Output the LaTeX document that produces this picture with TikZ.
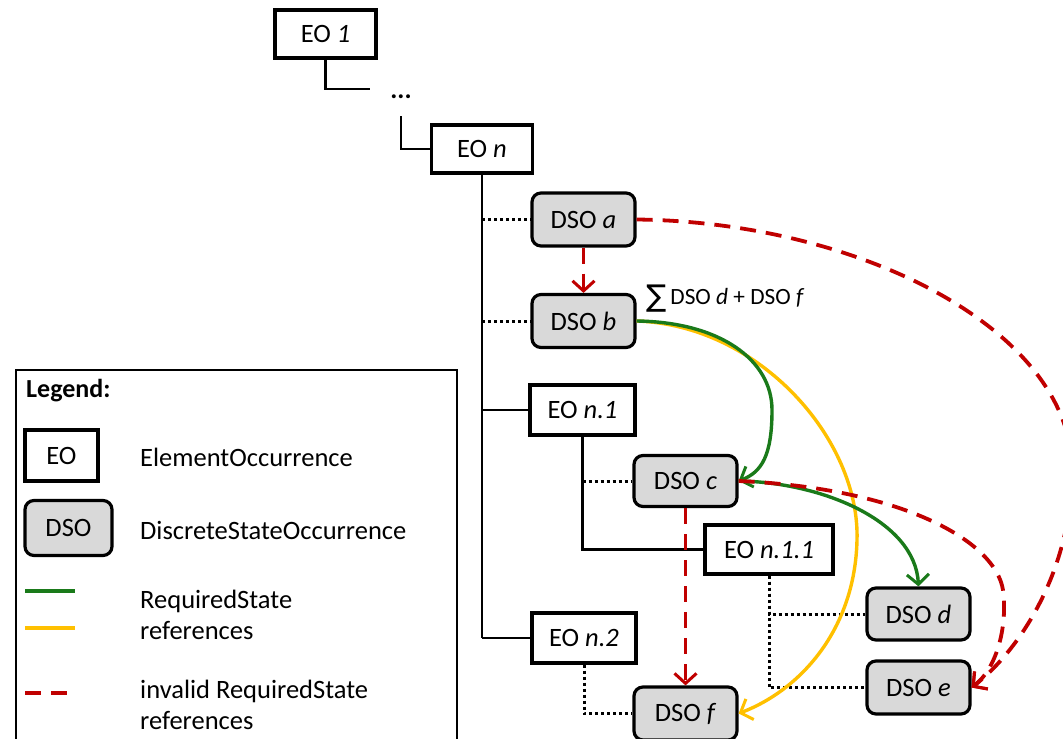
\documentclass[tikz,border=0pt]{standalone}
\usepackage{fontspec}
\setmainfont{Carlito}
\newfontfamily\symfont{DejaVu Sans}
\usetikzlibrary{arrows.meta}
\definecolor{rgreen}{HTML}{1A7A1A}
\definecolor{ryellow}{HTML}{FFC000}
\definecolor{rred}{HTML}{C00000}
\definecolor{dsofill}{HTML}{D9D9D9}
\begin{document}
\begin{tikzpicture}[x=1pt,y=-1pt,
  every node/.style={font=\fontsize{26.5}{32}\selectfont},
  eobox/.style={draw,line width=3.2pt,fill=white,minimum width=101pt,minimum height=48pt,inner sep=0pt},
  dsobox/.style={draw,line width=3.2pt,fill=dsofill,rounded corners=9pt,minimum width=103pt,minimum height=53pt,inner sep=0pt},
  tree/.style={line width=2.6pt},
  dotline/.style={line width=3pt,dash pattern=on 3pt off 3pt},
  tip/.style={-{Straight Barb[length=10pt,width=22pt,line width=3pt]}},
  greenref/.style={draw=rgreen,line width=3.4pt},
  yellowref/.style={draw=ryellow,line width=3.4pt},
  redref/.style={draw=rred,line width=3.8pt,dash pattern=on 16pt off 10pt},
]
\useasboundingbox (0,0) rectangle (1063,739);
\clip (0,0) rectangle (1063,739);

% tree of element occurrences
\node[eobox] (eo1) at (325.5,34) {EO \textit{1}};
\node[font=\fontsize{26.5}{32}\selectfont\bfseries] (dots) at (401,97) {...};
\coordinate (c1) at (370,89);
\coordinate (c2) at (401,116);
\node[eobox] (eon) at (482,149) {EO \textit{n}};
\draw[tree] (eo1.south) |- (c1);
\draw[tree] (c2) |- (eon.west);

\node[dsobox] (a) at (583.5,219.5) {DSO \textit{a}};
\node[dsobox] (b) at (583.5,321) {DSO \textit{b}};
\node[eobox,minimum width=105pt,minimum height=50pt] (n1) at (582.5,410) {EO \textit{n.1}};
\node[dsobox,minimum height=51pt] (c) at (685.5,481) {DSO \textit{c}};
\node[eobox,minimum width=128pt,minimum height=49pt] (n11) at (769,549.5) {EO \textit{n.1.1}};
\node[dsobox,minimum height=52pt] (d) at (918.5,614) {DSO \textit{d}};
\node[dsobox,minimum height=53pt] (e) at (918.5,687.5) {DSO \textit{e}};
\node[eobox,minimum width=104pt,minimum height=50pt] (n2) at (584,638) {EO \textit{n.2}};
\node[dsobox,minimum height=53pt] (f) at (685.5,713.5) {DSO \textit{f}};

\coordinate (trunkbot) at (482,638);
\draw[tree] (eon.south) -- (trunkbot);
\draw[tree] (trunkbot) -- (n2.west);
\draw[tree] (482,410) -- (n1.west);
\draw[dotline] (482,219.5) -- (a.west);
\draw[dotline] (482,321) -- (b.west);
\draw[tree] (n1.south) |- (n11.west);
\draw[dotline] (582.5,481) -- (c.west);
\draw[dotline] (n11.south) |- (d.west);
\draw[dotline] (n11.south) |- (e.west);
\draw[dotline] (n2.south) |- (f.west);

% sum label
\node[anchor=west,inner sep=0pt] (sum) at (646,299) {\raisebox{-2pt}{\symfont\fontsize{30}{34}\selectfont ∑}\hspace{4pt}\fontsize{23.3}{28}\selectfont DSO \textit{d} + DSO \textit{f}};

% references
\draw[yellowref,tip] (b.east) .. controls (760,325) and (860,440) .. (857,540)
   .. controls (855,630) and (800,690) .. (f.east);
\draw[greenref,tip] (b.east) .. controls (720,322) and (772,360) .. (772,410)
   .. controls (772,455) and (762,472) .. (c.east);
\draw[greenref,tip] (c.east) .. controls (820,482) and (915,520) .. (d.north);
\draw[redref,tip] (a.south) -- (b.north);
\draw[redref,tip] (c.south) -- (f.north);
\draw[redref,tip] (c.east) .. controls (900,488) and (995,540) .. (1003,590)
   .. controls (1008,630) and (995,670) .. (e.east);
\draw[redref,tip] (a.east) .. controls (860,222) and (1072,330) .. (1072,470)
   .. controls (1072,570) and (1020,650) .. (e.east);

% legend
\draw[line width=2pt] (16,745) |- (457,370) -- (457,745);
\node[anchor=west,inner sep=0pt,font=\fontsize{26}{31}\selectfont\bfseries] (leg) at (26,391) {Legend:};
\node[eobox,minimum width=73pt,minimum height=51pt] (leo) at (61.5,455.5) {EO};
\node[dsobox,minimum width=87pt,minimum height=55pt] (ldso) at (68.5,528) {DSO};
\node[anchor=west,inner sep=0pt] (t1) at (140,457) {ElementOccurrence};
\node[anchor=west,inner sep=0pt] (t2) at (140,530) {DiscreteStateOccurrence};
\coordinate (g1) at (25,591); \coordinate (g2) at (75,591);
\coordinate (y1) at (25,628); \coordinate (y2) at (75,628);
\coordinate (r1) at (25,693); \coordinate (r2) at (70,693);
\draw[greenref] (g1) -- (g2);
\draw[yellowref] (y1) -- (y2);
\draw[redref] (r1) -- (r2);
\node[anchor=north west,inner sep=0pt,align=left,font=\fontsize{26.5}{31}\selectfont] (t3) at (140,590) {RequiredState\\references};
\node[anchor=north west,inner sep=0pt,align=left,font=\fontsize{26.5}{31}\selectfont] (t4) at (140,680) {invalid RequiredState\\references};
\end{tikzpicture}
\end{document}
